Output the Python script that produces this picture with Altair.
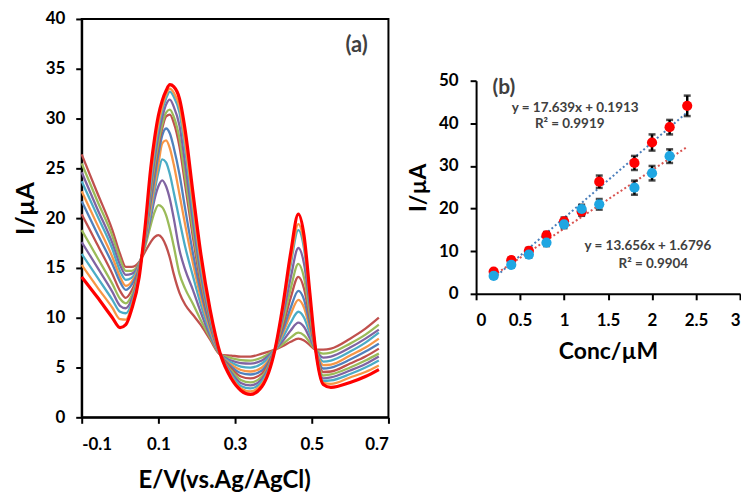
import altair as alt
import pandas as pd

FONT = "Lato"

# ---------------- panel (a): DPV curves ----------------
E = [-0.1, -0.06, -0.02, 0.0, 0.015, 0.03, 0.05, 0.065, 0.08, 0.09, 0.1, 0.11, 0.12,
     0.13, 0.14, 0.155, 0.17, 0.19, 0.21, 0.235, 0.262, 0.29, 0.315, 0.34, 0.37,
     0.404, 0.425, 0.445, 0.465, 0.48, 0.495, 0.51, 0.53, 0.55, 0.6, 0.64, 0.675]

c1 = [26.4, 22.6, 18.8, 16.4, 15.1, 15.1, 15.6, 16.6, 17.6, 18.1, 18.3, 18.0, 17.2, 16.0, 14.4, 12.5, 11.3, 10.3, 9.3, 7.8, 6.3, 6.2, 6.1, 6.1, 6.4, 6.8, 7.16, 7.58, 7.9, 7.72, 7.26, 6.8, 6.8, 6.9, 7.9, 8.9, 10.0]
c2 = [25.5, 21.8, 18.2, 15.9, 14.7, 14.7, 15.5, 17.1, 19.3, 20.6, 21.3, 21.1, 20.3, 18.9, 17.2, 14.4, 12.9, 11.4, 9.8, 8.0, 6.3, 5.95, 5.75, 5.7, 6.0, 6.8, 7.36, 8.0, 8.5, 8.23, 7.51, 6.8, 6.4, 6.5, 7.4, 8.3, 9.3]
c3 = [24.6, 21.0, 17.5, 15.3, 14.3, 14.4, 15.4, 17.4, 20.0, 21.9, 23.2, 23.8, 23.2, 21.9, 20.0, 16.8, 14.8, 12.8, 10.6, 8.2, 6.3, 5.7, 5.45, 5.4, 5.7, 6.8, 7.69, 8.72, 9.5, 9.07, 7.93, 6.8, 6.0, 6.1, 7.0, 7.9, 8.8]
c4 = [23.7, 20.3, 16.9, 14.7, 13.8, 14.0, 15.3, 17.6, 20.5, 22.7, 24.6, 25.9, 25.6, 24.4, 22.6, 19.8, 17.1, 14.2, 11.4, 8.5, 6.3, 5.5, 5.1, 5.0, 5.4, 6.8, 8.05, 9.5, 10.6, 10.0, 8.4, 6.8, 5.6, 5.7, 6.6, 7.5, 8.5]
c5 = [22.7, 19.4, 16.1, 14.1, 13.2, 13.6, 15.2, 17.8, 21.0, 23.3, 25.4, 27.5, 27.8, 27.0, 25.4, 22.4, 19.3, 15.5, 12.1, 8.8, 6.3, 5.3, 4.75, 4.6, 5.0, 6.8, 8.45, 10.35, 11.8, 11.0, 8.9, 6.8, 5.25, 5.3, 6.2, 7.0, 7.9]
c6 = [21.7, 18.5, 15.4, 13.6, 12.8, 13.3, 15.1, 17.9, 21.6, 24.0, 26.4, 28.3, 29.0, 28.5, 27.1, 24.4, 20.9, 16.5, 12.7, 9.1, 6.3, 5.1, 4.45, 4.3, 4.7, 6.8, 8.75, 11.0, 12.7, 11.8, 9.3, 6.8, 4.9, 5.0, 5.8, 6.6, 7.4]
c7 = [20.4, 17.4, 14.4, 12.7, 12.0, 12.7, 14.9, 18.0, 22.2, 24.9, 27.2, 29.0, 30.2, 30.4, 29.6, 27.2, 23.3, 18.1, 13.5, 9.4, 6.3, 4.9, 4.1, 3.9, 4.4, 6.8, 9.2, 12.0, 14.1, 12.9, 9.9, 6.8, 4.55, 4.6, 5.4, 6.1, 6.9]
c8 = [18.8, 16.1, 13.4, 11.9, 11.45, 12.2, 14.8, 18.1, 22.5, 25.3, 27.6, 29.4, 30.6, 30.9, 30.2, 28.0, 24.1, 18.8, 14.0, 9.6, 6.3, 4.7, 3.75, 3.5, 4.1, 6.8, 9.65, 12.9, 15.4, 14.0, 10.4, 6.8, 4.2, 4.3, 5.0, 5.7, 6.4]
c9 = [17.6, 15.1, 12.6, 11.2, 10.95, 11.8, 14.6, 18.3, 23.0, 25.9, 28.3, 30.1, 31.4, 31.9, 31.2, 29.3, 25.4, 19.7, 14.5, 9.8, 6.3, 4.5, 3.45, 3.2, 3.85, 6.8, 10.2, 14.0, 17.0, 15.4, 11.1, 6.8, 3.9, 4.0, 4.7, 5.35, 6.1]
c10 = [16.4, 14.1, 11.8, 10.6, 10.45, 11.4, 14.5, 18.5, 23.6, 26.6, 29.0, 30.8, 32.0, 32.7, 32.2, 30.6, 26.8, 20.7, 15.2, 10.1, 6.3, 4.3, 3.15, 2.9, 3.6, 6.8, 10.8, 15.3, 18.8, 16.9, 11.8, 6.8, 3.65, 3.7, 4.35, 5.0, 5.7]
c11 = [15.3, 13.1, 11.0, 9.85, 9.8, 11.1, 14.3, 18.7, 24.2, 27.2, 29.5, 31.2, 32.4, 33.0, 32.6, 31.2, 27.6, 21.5, 15.8, 10.4, 6.3, 4.1, 2.9, 2.6, 3.35, 6.8, 11.0, 15.7, 19.4, 17.4, 12.1, 6.8, 3.45, 3.35, 4.0, 4.55, 5.2]
c12 = [14.1, 12.1, 10.0, 9.0, 9.3, 10.8, 14.1, 19.0, 25.0, 28.0, 30.3, 31.8, 32.8, 33.4, 33.2, 32.0, 28.8, 22.6, 16.6, 10.8, 6.3, 3.9, 2.7, 2.3, 3.1, 6.8, 11.3, 16.5, 20.4, 18.2, 12.5, 6.8, 3.3, 3.0, 3.5, 4.1, 4.8]

curves = [c1, c2, c3, c4, c5, c6, c7, c8, c9, c10, c11, c12]
names = ["s01", "s02", "s03", "s04", "s05", "s06", "s07", "s08", "s09", "s10", "s11", "s12"]
colors = ["#C0504D", "#9BBB59", "#8064A2", "#4BACC6", "#F79646", "#4F81BD",
          "#C0504D", "#9BBB59", "#8064A2", "#4BACC6", "#F79646", "#FF0000"]

rows = []
for n, vals in zip(names, curves):
    for x, y in zip(E, vals):
        rows.append({"series": n, "E": x, "I": y})
dfa = pd.DataFrame(rows)

# ---------------- panel (b): calibration ----------------
conc_r = [0.2, 0.4, 0.6, 0.8, 1.0, 1.2, 1.4, 1.8, 2.0, 2.2, 2.4]
cur_r = [5.2, 7.9, 10.1, 13.7, 17.0, 19.3, 26.3, 30.7, 35.5, 39.1, 44.1]
err_r = [0.5, 0.6, 0.7, 0.8, 0.9, 1.0, 1.45, 1.65, 1.9, 1.7, 2.4]
conc_b = [0.2, 0.4, 0.6, 0.8, 1.0, 1.2, 1.4, 1.8, 2.0, 2.2]
cur_b = [4.2, 6.8, 9.2, 12.0, 16.3, 19.9, 21.0, 24.9, 28.3, 32.3]
err_b = [0.5, 0.6, 0.7, 0.8, 0.9, 1.0, 1.25, 1.65, 1.7, 1.6]

eq_text = ["y = 17.639x + 0.1913", "R² = 0.9919", "y = 13.656x + 1.6796", "R² = 0.9904"]
eq_x = [1.126, 1.064, 1.953, 2.015]
eq_y = [43.6, 39.9, 11.1, 7.1]

dfr = pd.DataFrame({"c": conc_r, "i": cur_r, "lo": [a - b for a, b in zip(cur_r, err_r)],
                    "hi": [a + b for a, b in zip(cur_r, err_r)]})
dfb = pd.DataFrame({"c": conc_b, "i": cur_b, "lo": [a - b for a, b in zip(cur_b, err_b)],
                    "hi": [a + b for a, b in zip(cur_b, err_b)]})

axis_common = dict(grid=False, domainColor="black", domainWidth=2, tickColor="black",
                   tickWidth=2, tickSize=6, labelColor="black", labelFont=FONT,
                   labelFontWeight="bold", labelFontSize=17, titleFont=FONT,
                   titleFontWeight="bold", titleColor="black")

xa = alt.X("E:Q", scale=alt.Scale(domain=[-0.1, 0.7], nice=False, zero=False),
           axis=alt.Axis(values=[-0.1, 0.1, 0.3, 0.5, 0.7],
                         labelExpr="datum.value < 0 ? '-' + format(-datum.value, '.1f') : format(datum.value, '.1f')",
                         title="E/V(vs.Ag/AgCl)", titleFontSize=24, labelPadding=13,
                         titlePadding=16, titleX=143, **axis_common))
ya = alt.Y("I:Q", scale=alt.Scale(domain=[0, 40], nice=False),
           axis=alt.Axis(values=list(range(0, 41, 5)), title="I/µA", titleFontSize=25,
                         labelPadding=11, titlePadding=7, titleY=190, **axis_common))

thin = alt.Chart(dfa[dfa.series != "s12"]).mark_line(strokeWidth=2.3, interpolate="monotone").encode(
    x=xa, y=ya,
    color=alt.Color("series:N", scale=alt.Scale(domain=names[:-1], range=colors[:-1]), legend=None))
thick = alt.Chart(dfa[dfa.series == "s12"]).mark_line(strokeWidth=3.2, color="#FF0000",
                                                      interpolate="monotone").encode(x=xa, y=ya)
lab_a = alt.Chart(pd.DataFrame({"t": ["(a)"]})).mark_text(
    font=FONT, fontSize=22, fontWeight="bold", color="#404040").encode(
    x=alt.datum(0.617), y=alt.datum(37.4), text="t:N")

left = alt.layer(thin, thick, lab_a).properties(
    width=308, height=400, view=alt.ViewBackground(stroke="black", strokeWidth=2))

xb = alt.X("c:Q", scale=alt.Scale(domain=[0, 3], nice=False),
           axis=alt.Axis(values=[0, 0.5, 1, 1.5, 2, 2.5, 3], format="~g", title="Conc/µM",
                         titleFontSize=23, labelPadding=13, titlePadding=12, **axis_common))
yb = alt.Y("i:Q", scale=alt.Scale(domain=[0, 50], nice=False),
           axis=alt.Axis(values=[0, 10, 20, 30, 40, 50], title="I/µA", titleFontSize=23,
                         labelPadding=12, titlePadding=8, **axis_common))

trend_r = alt.Chart(dfr).transform_regression("c", "i", extent=[0.2, 2.4]).mark_line(
    color="#4A7EBB", strokeWidth=2, strokeDash=[2, 2.5]).encode(x=xb, y=yb)
trend_b = alt.Chart(dfb).transform_regression("c", "i", extent=[0.2, 2.4]).mark_line(
    color="#D9534F", strokeWidth=2, strokeDash=[2, 2.5]).encode(x=xb, y=yb)


def err_layers(df):
    bar = alt.Chart(df).mark_rule(color="black", strokeWidth=2.5).encode(
        x=xb, y=alt.Y("lo:Q", scale=alt.Scale(domain=[0, 50], nice=False)), y2="hi:Q")
    cap1 = alt.Chart(df).mark_tick(color="black", orient="horizontal", size=7, thickness=2.5).encode(
        x=xb, y=alt.Y("lo:Q"))
    cap2 = alt.Chart(df).mark_tick(color="black", orient="horizontal", size=7, thickness=2.5).encode(
        x=xb, y=alt.Y("hi:Q"))
    return [bar, cap1, cap2]


pts_r = alt.Chart(dfr).mark_circle(size=105, color="#FF0000", opacity=1).encode(x=xb, y=yb)
pts_b = alt.Chart(dfb).mark_circle(size=105, color="#1FA6E2", opacity=1).encode(x=xb, y=yb)

eq_df = pd.DataFrame({"t": eq_text, "x": eq_x, "y": eq_y})
eqs = alt.Chart(eq_df).mark_text(font=FONT, fontSize=13.5, fontWeight="bold", color="#404040").encode(
    x=alt.X("x:Q"), y=alt.Y("y:Q"), text="t:N")
lab_b = alt.Chart(pd.DataFrame({"t": ["(b)"]})).mark_text(
    font=FONT, fontSize=21, fontWeight="bold", color="#404040").encode(
    x=alt.datum(0.317), y=alt.datum(48.3), text="t:N")

right = alt.layer(trend_r, trend_b, *err_layers(dfr), *err_layers(dfb), pts_r, pts_b, eqs, lab_b).properties(
    width=265, height=214, view=alt.ViewBackground(stroke="transparent", strokeWidth=0))

spacer = alt.Chart(pd.DataFrame({"a": [0]})).mark_rect(opacity=0).encode(
    x=alt.value(0), x2=alt.value(265), y=alt.value(0), y2=alt.value(53)).properties(
    width=265, height=53, view=alt.ViewBackground(stroke="transparent", strokeWidth=0))

right_col = alt.vconcat(spacer, right, spacing=0)

chart = alt.hconcat(left, right_col, spacing=17).properties(
    padding={"left": 4, "top": 0, "right": 0, "bottom": 0}
).configure_view(stroke="transparent", strokeWidth=0).configure(background="white")

chart.save("out.html", embed_options={"renderer": "svg", "actions": False})
